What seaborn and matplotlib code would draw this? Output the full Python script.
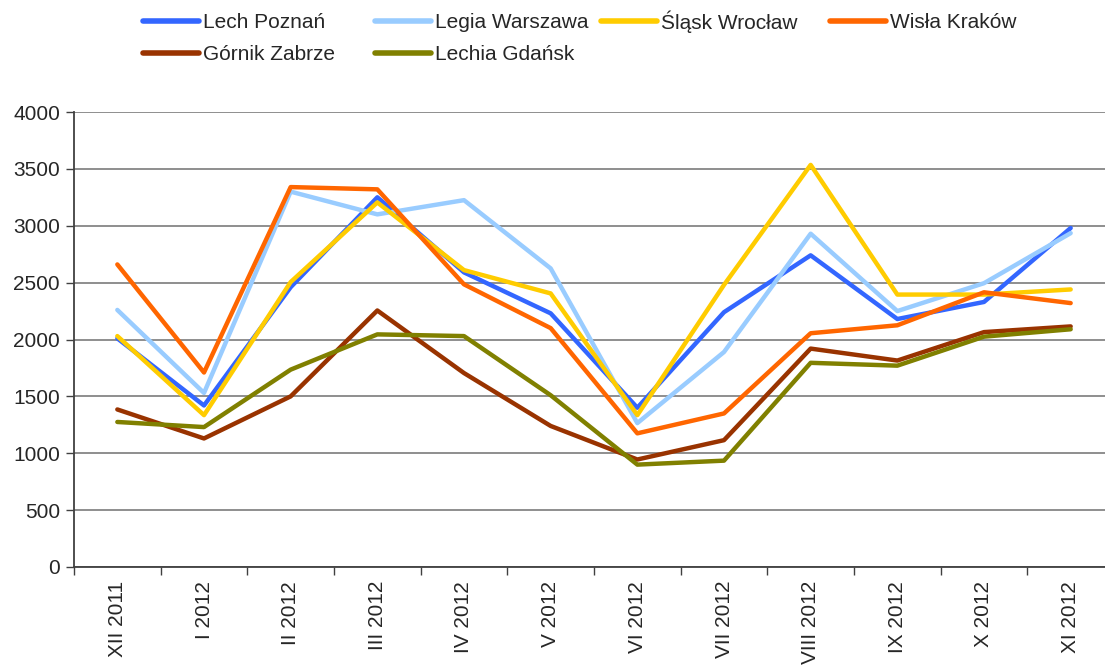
import matplotlib
matplotlib.use("Agg")
import matplotlib.pyplot as plt
import numpy as np
import pandas as pd
import seaborn as sns

# data
months = ["XII 2011", "I 2012", "II 2012", "III 2012", "IV 2012", "V 2012",
          "VI 2012", "VII 2012", "VIII 2012", "IX 2012", "X 2012", "XI 2012"]
lech = [2010, 1420, 2460, 3250, 2590, 2230, 1400, 2240, 2740, 2180, 2330, 2980]
legia = [2260, 1530, 3300, 3100, 3225, 2625, 1265, 1890, 2930, 2250, 2495, 2935]
slask = [2030, 1335, 2505, 3205, 2610, 2405, 1335, 2480, 3535, 2395, 2395, 2440]
wisla = [2660, 1710, 3340, 3320, 2485, 2100, 1175, 1350, 2055, 2125, 2415, 2320]
gornik = [1385, 1130, 1500, 2255, 1705, 1240, 945, 1115, 1920, 1815, 2065, 2115]
lechia = [1275, 1230, 1735, 2045, 2030, 1510, 900, 935, 1795, 1770, 2025, 2090]

teams = ["Lech Poznań", "Legia Warszawa", "Śląsk Wrocław", "Wisła Kraków",
         "Górnik Zabrze", "Lechia Gdańsk"]
series = [lech, legia, slask, wisla, gornik, lechia]
colors = ["#3366FF", "#99CCFF", "#FFCC00", "#FF6600", "#993300", "#808000"]

df = pd.concat([pd.DataFrame({"month": months, "value": v, "team": t})
                for t, v in zip(teams, series)], ignore_index=True)

sns.set_style("white")
plt.rcParams["font.family"] = ["Liberation Sans", "DejaVu Sans"]

fig = plt.figure(figsize=(11.05, 6.66), dpi=100)
ax = fig.add_axes([74 / 1105, 1 - 567 / 666, 1040 / 1105, 455 / 666])

sns.lineplot(data=df, x="month", y="value", hue="team", hue_order=teams,
             palette=colors, sort=False, lw=3.2, ax=ax, legend=True,
             solid_capstyle="round", solid_joinstyle="round")

ax.set_xlim(-0.5, len(months) - 0.5)
ax.set_ylim(0, 4000)
ax.set_yticks(np.arange(0, 4001, 500))
ax.set_xticks(range(len(months)))
ax.set_xticklabels(months, rotation=90, fontsize=15)
ax.set_xticks(np.arange(-0.5, len(months), 1), minor=True)
ax.tick_params(axis="x", which="major", length=0, pad=10)
ax.tick_params(axis="x", which="minor", length=6, width=1, color="#404040", direction="out", bottom=True)
ax.tick_params(axis="y", labelsize=15, length=6, width=1, color="#404040", direction="out", left=True, pad=4)
ax.set_xlabel("")
ax.set_ylabel("")
ax.yaxis.grid(True, color="#868686", lw=1.3)
ax.set_axisbelow(True)
for s in ["top", "right"]:
    ax.spines[s].set_visible(False)
for s in ["left", "bottom"]:
    ax.spines[s].set_color("#404040")
    ax.spines[s].set_linewidth(1.3)

handles, labels = ax.get_legend_handles_labels()
ax.get_legend().remove()
hmap = dict(zip(labels, handles))

# excel-style legend: fixed column positions (x of handle, y of centre)
cols = [(["Lech Poznań", "Górnik Zabrze"], 143, 38.5),
        (["Legia Warszawa", "Lechia Gdańsk"], 375, 38.5),
        (["Śląsk Wrocław"], 601, 21.5),
        (["Wisła Kraków"], 830, 22.5)]
for names, x0, y0 in cols:
    leg = fig.legend([hmap[n] for n in names], names, loc="center left",
                     bbox_to_anchor=(x0 / 1105, 1 - y0 / 666), frameon=False,
                     fontsize=15, handlelength=2.7, handletextpad=0.2,
                     labelspacing=0.64, borderpad=0, borderaxespad=0)
    for line in leg.get_lines():
        line.set_linewidth(4)

fig.savefig("out.png", dpi=100)
